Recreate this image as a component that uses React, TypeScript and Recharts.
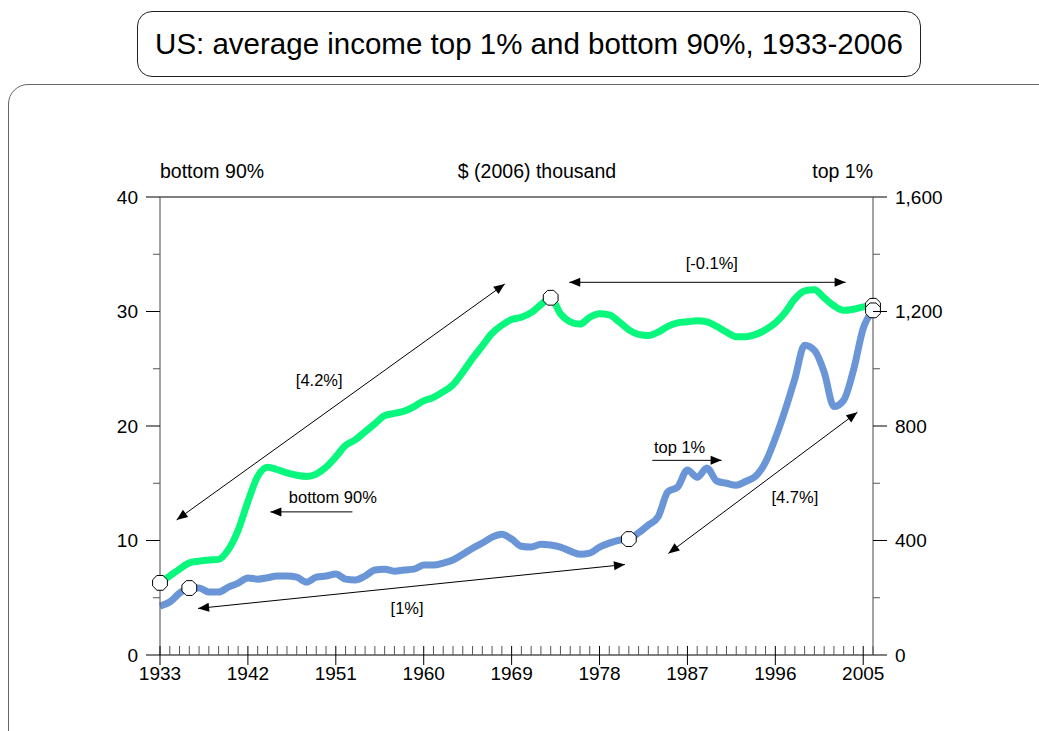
import React from 'react';
import { LineChart, Line, XAxis, YAxis, ReferenceLine, ReferenceDot } from 'recharts';

// ---- data ----
const years = [
  1933, 1934, 1935, 1936, 1937, 1938, 1939, 1940, 1941, 1942, 1943, 1944, 1945, 1946, 1947, 1948, 1949,
  1950, 1951, 1952, 1953, 1954, 1955, 1956, 1957, 1958, 1959, 1960, 1961, 1962, 1963, 1964, 1965, 1966,
  1967, 1968, 1969, 1970, 1971, 1972, 1973, 1974, 1975, 1976, 1977, 1978, 1979, 1980, 1981, 1982, 1983,
  1984, 1985, 1986, 1987, 1988, 1989, 1990, 1991, 1992, 1993, 1994, 1995, 1996, 1997, 1998, 1999, 2000,
  2001, 2002, 2003, 2004, 2005, 2006,
];
// bottom 90% average income, $ (2006) thousand, left axis
const bottom90 = [
  6.3, 6.9, 7.5, 8.05, 8.2, 8.3, 8.35, 9.2, 10.9, 13.4, 15.6, 16.4, 16.2, 15.9, 15.7, 15.6, 15.8,
  16.4, 17.3, 18.3, 18.8, 19.5, 20.2, 20.9, 21.1, 21.3, 21.7, 22.2, 22.5, 23.0, 23.6, 24.7, 25.9, 27.0,
  28.1, 28.8, 29.3, 29.5, 29.9, 30.6, 31.2, 29.8, 29.1, 28.9, 29.5, 29.8, 29.7, 29.1, 28.4, 28.0, 27.9,
  28.2, 28.7, 29.0, 29.1, 29.2, 29.1, 28.7, 28.2, 27.8, 27.8, 28.0, 28.4, 29.0, 29.9, 31.1, 31.8, 31.9,
  31.2, 30.5, 30.1, 30.2, 30.4, 30.5,
];
// top 1% average income, $ (2006) thousand, right axis
const top1 = [
  171, 185, 216, 234, 234, 220, 220, 237, 251, 269, 265, 270, 276, 276, 272, 255, 272,
  276, 283, 265, 262, 276, 297, 300, 293, 297, 300, 314, 314, 321, 332, 352, 373, 391,
  412, 422, 405, 380, 377, 387, 384, 377, 363, 352, 356, 377, 391, 401, 405, 427, 454,
  483, 570, 587, 646, 621, 653, 608, 600, 593, 607, 625, 674, 757, 855, 965, 1082, 1064,
  988, 868, 890, 995, 1141, 1204,
];
const highlightBottom = [1933, 1973, 2006];
const highlightTop = [1936, 1981, 2006];

const xMajorTicks = [1933, 1942, 1951, 1960, 1969, 1978, 1987, 1996, 2005];
const leftTicks = [0, 5, 10, 15, 20, 25, 30, 35, 40];
const leftMajor = [0, 10, 20, 30, 40];
const rightTicks = [0, 200, 400, 600, 800, 1000, 1200, 1400, 1600];
const rightMajor = [0, 400, 800, 1200, 1600];

const titleText = 'US: average income top 1% and bottom 90%, 1933-2006';
const headerLabels = [
  { text: 'bottom 90%', year: 1933, value: 42.3, anchor: 'start' },
  { text: '$ (2006) thousand', year: 1971.6, value: 42.3, anchor: 'middle' },
  { text: 'top 1%', year: 2006, value: 42.3, anchor: 'end' },
];
const arrowFromYear = [1934.7, 1974.9, 1952.7, 1936.9, 1983.4, 1985.05];
const arrowFromValue = [11.8, 32.55, 12.5, 4.07, 17.0, 8.87];
const arrowToYear = [1968.3, 2003.2, 1944.3, 1980.6, 1990.5, 2004.4];
const arrowToValue = [32.4, 32.55, 12.5, 7.9, 17.0, 21.2];
const arrowHeads = ['both', 'both', 'end', 'both', 'end', 'both'];
const noteTexts = ['[4.2%]', '[-0.1%]', 'bottom 90%', '[1%]', 'top 1%', '[4.7%]'];
const noteYears = [1949.3, 1989.5, 1950.7, 1958.3, 1986.2, 1998.0];
const noteValues = [24.06, 34.2, 13.8, 4.13, 18.2, 13.76];

const data = years.map((y, i) => ({ year: y, bottom90: bottom90[i], top1: top1[i] }));

const FONT = '"Liberation Sans", Arial, Helvetica, sans-serif';
const GREEN = '#0AF77E';
const BLUE = '#6A96D8';

// ---- ticks ----
const X_TICK_SIZE = 10;
const X_TICK_MARGIN = 2;
const XTick = (props: any) => {
  const { x, y, payload } = props;
  const axisY = y - X_TICK_SIZE - X_TICK_MARGIN;
  const major = xMajorTicks.includes(payload.value);
  return (
    <g>
      <line x1={x} x2={x} y1={axisY - 9} y2={major ? axisY + X_TICK_SIZE : axisY} stroke={major ? '#000' : '#555'} strokeWidth={1} />
      {major && (
        <text x={x} y={y} dy="0.71em" textAnchor="middle" fontSize={19} fill="#000">
          {payload.value}
        </text>
      )}
    </g>
  );
};

const Y_TICK_SIZE = 14;
const Y_TICK_MARGIN = 8;
const LeftTick = (props: any) => {
  const { x, y, payload } = props;
  const axisX = x + Y_TICK_SIZE + Y_TICK_MARGIN;
  const major = leftMajor.includes(payload.value);
  return (
    <g>
      <line x1={axisX - (major ? 14 : 7)} x2={axisX} y1={y} y2={y} stroke={major ? '#000' : '#555'} strokeWidth={1} />
      {major && (
        <text x={x} y={y} dy="0.36em" textAnchor="end" fontSize={19} fill="#000">
          {payload.value}
        </text>
      )}
    </g>
  );
};
const RightTick = (props: any) => {
  const { x, y, payload } = props;
  const axisX = x - Y_TICK_SIZE - Y_TICK_MARGIN;
  const major = rightMajor.includes(payload.value);
  return (
    <g>
      <line x1={axisX} x2={axisX + (major ? 14 : 7)} y1={y} y2={y} stroke={major ? '#000' : '#555'} strokeWidth={1} />
      {major && (
        <text x={x} y={y} dy="0.36em" textAnchor="start" fontSize={19} fill="#000">
          {payload.value.toLocaleString('en-US')}
        </text>
      )}
    </g>
  );
};

// ---- marks ----
const octagon = (cx: number, cy: number, r: number) =>
  Array.from({ length: 8 }, (_, k) => {
    const a = (Math.PI / 8) * (2 * k + 1);
    return `${cx + r * Math.cos(a)},${cy + r * Math.sin(a)}`;
  }).join(' ');

const makeDot = (highlight: number[]) => (props: any) => {
  const { cx, cy, payload, index } = props;
  if (!highlight.includes(payload.year)) return <g key={`n${index}`} />;
  return <polygon key={`d${index}`} points={octagon(cx, cy, 8)} fill="#fff" stroke="#000" strokeWidth={1} />;
};

const head = (tx: number, ty: number, fx: number, fy: number) => {
  const len = 11;
  const half = 4.5;
  const dx = tx - fx;
  const dy = ty - fy;
  const d = Math.sqrt(dx * dx + dy * dy) || 1;
  const ux = dx / d;
  const uy = dy / d;
  const bx = tx - ux * len;
  const by = ty - uy * len;
  return `${tx},${ty} ${bx - uy * half},${by + ux * half} ${bx + uy * half},${by - ux * half}`;
};

const makeArrow = (heads: string) => (props: any) => {
  const { x1, y1, x2, y2 } = props;
  return (
    <g>
      <line x1={x1} y1={y1} x2={x2} y2={y2} stroke="#000" strokeWidth={1} />
      {heads === 'both' && <polygon points={head(x1, y1, x2, y2)} fill="#000" />}
      <polygon points={head(x2, y2, x1, y1)} fill="#000" />
    </g>
  );
};

const makeText = (text: string, anchor: string, size: number) => (props: any) => (
  <text x={props.cx} y={props.cy} textAnchor={anchor as any} dominantBaseline="central" fontSize={size} fill="#000" style={{ fontFamily: FONT }}>
    {text}
  </text>
);

export default function App() {
  return (
    <div style={{ position: 'absolute', left: 0, top: 0, width: 1039, height: 731, overflow: 'hidden', background: '#fff', fontFamily: FONT }}>
      <div
        style={{
          position: 'absolute', left: 8, top: 84, width: 1100, height: 720,
          border: '1.5px solid #666', borderRadius: 20, boxSizing: 'border-box',
        }}
      />
      <div
        style={{
          position: 'absolute', left: 137, top: 11, width: 784, height: 66,
          border: '1.3px solid #222', borderRadius: 15, boxSizing: 'border-box',
          display: 'flex', alignItems: 'center', justifyContent: 'center',
          fontSize: 29.5, color: '#000', whiteSpace: 'nowrap',
        }}
      >
        {titleText}
      </div>
      <div style={{ position: 'absolute', left: 0, top: 0 }}>
        <LineChart width={1039} height={731} data={data} margin={{ top: 197, right: 106, bottom: 46, left: 100 }}>
          <XAxis
            dataKey="year"
            type="number"
            domain={[1933, 2006]}
            ticks={years}
            interval={0}
            tick={<XTick />}
            tickLine={false}
            tickSize={X_TICK_SIZE}
            tickMargin={X_TICK_MARGIN}
            axisLine={{ stroke: '#000', strokeWidth: 1 }}
            height={30}
            allowDecimals={false}
          />
          <YAxis
            yAxisId="left"
            orientation="left"
            domain={[0, 40]}
            ticks={leftTicks}
            interval={0}
            tick={<LeftTick />}
            tickLine={false}
            tickSize={Y_TICK_SIZE}
            tickMargin={Y_TICK_MARGIN}
            axisLine={{ stroke: '#666', strokeWidth: 1.2 }}
            width={60}
          />
          <YAxis
            yAxisId="right"
            orientation="right"
            domain={[0, 1600]}
            ticks={rightTicks}
            interval={0}
            tick={<RightTick />}
            tickLine={false}
            tickSize={Y_TICK_SIZE}
            tickMargin={Y_TICK_MARGIN}
            axisLine={{ stroke: '#666', strokeWidth: 1.2 }}
            width={60}
          />
          <ReferenceLine yAxisId="left" y={40} stroke="#000" strokeWidth={1} />
          {headerLabels.map((h, i) => (
            <ReferenceDot
              key={`h${i}`}
              yAxisId="left"
              x={h.year}
              y={h.value}
              r={1}
              ifOverflow="visible"
              shape={makeText(h.text, h.anchor, 19.5)}
            />
          ))}
          {arrowFromYear.map((fy, i) => (
            <ReferenceLine
              key={`a${i}`}
              yAxisId="left"
              ifOverflow="visible"
              segment={[
                { x: fy, y: arrowFromValue[i] },
                { x: arrowToYear[i], y: arrowToValue[i] },
              ]}
              shape={makeArrow(arrowHeads[i])}
            />
          ))}
          {noteTexts.map((t, i) => (
            <ReferenceDot
              key={`t${i}`}
              yAxisId="left"
              x={noteYears[i]}
              y={noteValues[i]}
              r={1}
              ifOverflow="visible"
              shape={makeText(t, 'middle', 16.5)}
            />
          ))}
          <Line
            yAxisId="left"
            type="monotone"
            dataKey="bottom90"
            stroke={GREEN}
            strokeWidth={7}
            dot={makeDot(highlightBottom)}
            activeDot={false}
            isAnimationActive={false}
          />
          <Line
            yAxisId="right"
            type="monotone"
            dataKey="top1"
            stroke={BLUE}
            strokeWidth={7}
            dot={makeDot(highlightTop)}
            activeDot={false}
            isAnimationActive={false}
          />
        </LineChart>
      </div>
    </div>
  );
}
